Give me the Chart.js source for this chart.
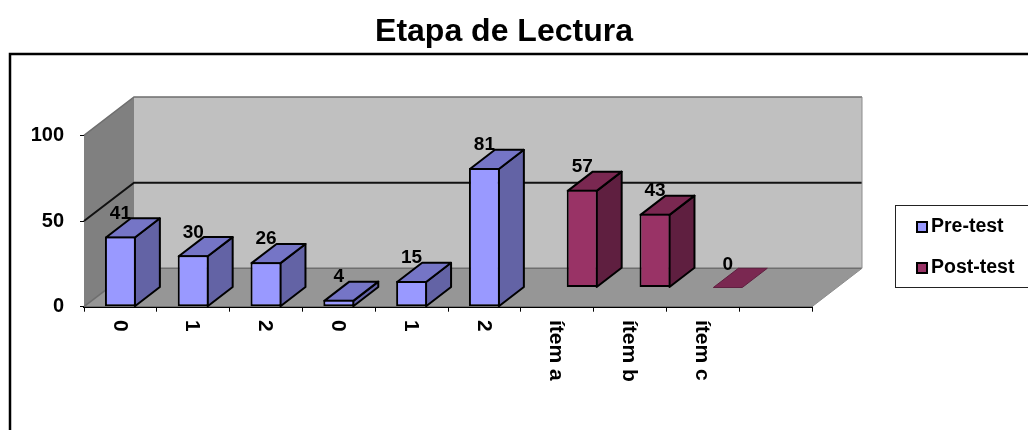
<!DOCTYPE html>
<html lang="es">
<head>
    <meta charset="UTF-8">
    <title>Etapa de Lectura</title>
    <script src="https://cdn.jsdelivr.net/npm/chart.js"></script>
    <style>
        html, body { margin: 0; padding: 0; background: #fff; }
        canvas { display: block; }
    </style>
</head>
<body>
    <canvas id="chart" width="1028" height="430"></canvas>
    <script>
        const categories = ['0', '1', '2', '0', '1', '2', 'ítem a', 'ítem b', 'ítem c', ''];
        const preTest = [41, 30, 26, 4, 15, 81, null, null, null, null];
        const postTest = [null, null, null, null, null, null, 57, 43, 0, null];
        const yTicks = [0, 50, 100];

        const FONT = '"Liberation Sans", Arial, sans-serif';
        // each series row is this deep, the floor holds two of them
        const rowDepth = { x: 25, y: -19.2 };
        const faces = [
            { front: '#9999ff', side: '#6363a5', top: '#7575c6' },
            { front: '#993366', side: '#5f1f40', top: '#7a2851' }
        ];

        function poly(ctx, pts, fill, stroke, lw) {
            ctx.beginPath();
            pts.forEach((p, i) => i ? ctx.lineTo(p[0], p[1]) : ctx.moveTo(p[0], p[1]));
            ctx.closePath();
            if (fill) { ctx.fillStyle = fill; ctx.fill(); }
            if (stroke) { ctx.strokeStyle = stroke; ctx.lineWidth = lw; ctx.stroke(); }
        }

        // walls and floor behind the bars
        const roomPlugin = {
            id: 'room',
            beforeDatasetsDraw(chart) {
                const { ctx, chartArea: a, scales: { y } } = chart;
                const dx = rowDepth.x * 2, dy = rowDepth.y * 2;
                ctx.save();
                // outer frame
                ctx.strokeStyle = '#000';
                ctx.lineWidth = 2.5;
                ctx.beginPath();
                ctx.moveTo(10, 430);
                ctx.lineTo(10, 54);
                ctx.lineTo(1028, 54);
                ctx.stroke();

                poly(ctx, [[a.left + dx, a.top + dy], [a.right + dx, a.top + dy], [a.right + dx, a.bottom + dy], [a.left + dx, a.bottom + dy]], '#c0c0c0');
                poly(ctx, [[a.left, a.top], [a.left + dx, a.top + dy], [a.left + dx, a.bottom + dy], [a.left, a.bottom]], '#808080');
                poly(ctx, [[a.left, a.bottom], [a.right, a.bottom], [a.right + dx, a.bottom + dy], [a.left + dx, a.bottom + dy]], '#969696');

                yTicks.forEach(v => {
                    const py = y.getPixelForValue(v);
                    ctx.beginPath();
                    ctx.moveTo(a.left, py);
                    ctx.lineTo(a.left + dx, py + dy);
                    ctx.lineTo(a.right + dx, py + dy);
                    ctx.strokeStyle = v === 50 ? '#111' : '#6e6e6e';
                    ctx.lineWidth = v === 50 ? 2 : 1.5;
                    ctx.stroke();
                });
                ctx.beginPath();
                ctx.moveTo(a.right + dx, a.top + dy);
                ctx.lineTo(a.right + dx, a.bottom + dy);
                ctx.lineTo(a.right, a.bottom);
                ctx.strokeStyle = '#8c8c8c';
                ctx.lineWidth = 1;
                ctx.stroke();
                ctx.restore();
            }
        };

        // side and top faces; the second series sits one row further back
        const depthPlugin = {
            id: 'depth',
            beforeDatasetDraw(chart, args) {
                const { ctx } = chart;
                const meta = chart.getDatasetMeta(args.index);
                const c = faces[args.index];
                ctx.save();
                ctx.translate(rowDepth.x * args.index, rowDepth.y * args.index);
                ctx.lineJoin = 'round';
                meta.data.forEach((bar, i) => {
                    if (chart.data.datasets[args.index].data[i] === null) return;
                    const l = bar.x - bar.width / 2 + 1, r = bar.x + bar.width / 2 - 1;
                    const t = bar.y + 1, b = bar.base;
                    const dx = rowDepth.x, dy = rowDepth.y;
                    if (b - t > 1) {
                        poly(ctx, [[r, t], [r + dx, t + dy], [r + dx, b + dy], [r, b]], c.side, '#000', 2);
                        poly(ctx, [[l, t], [r, t], [r + dx, t + dy], [l + dx, t + dy]], c.top, '#000', 2);
                    } else {
                        poly(ctx, [[l, b], [r, b], [r + dx, b + dy], [l + dx, b + dy]], c.top, c.side, 1);
                    }
                });
            },
            afterDatasetDraw(chart) {
                chart.ctx.restore();
            }
        };

        // data labels, rotated category labels and the legend box
        const textPlugin = {
            id: 'texts',
            afterDatasetsDraw(chart) {
                const { ctx, scales: { x } } = chart;
                ctx.save();
                ctx.fillStyle = '#000';
                ctx.font = 'bold 19px ' + FONT;
                ctx.textAlign = 'center';
                ctx.textBaseline = 'middle';
                chart.data.datasets.forEach((ds, d) => {
                    chart.getDatasetMeta(d).data.forEach((bar, i) => {
                        if (ds.data[i] === null) return;
                        ctx.fillText(String(ds.data[i]), bar.x + rowDepth.x * d, bar.y + rowDepth.y * d - 23);
                    });
                });

                ctx.font = 'bold 21px ' + FONT;
                ctx.textAlign = 'left';
                categories.forEach((label, i) => {
                    if (!label) return;
                    ctx.save();
                    ctx.translate(x.getPixelForValue(i) - 1, 320);
                    ctx.rotate(Math.PI / 2);
                    ctx.fillText(label, 0, 0);
                    ctx.restore();
                });

                ctx.fillStyle = '#fff';
                ctx.fillRect(895.5, 205.5, 140, 82);
                ctx.strokeStyle = '#222';
                ctx.lineWidth = 1;
                ctx.strokeRect(895.5, 205.5, 140, 82);
                ctx.font = 'bold 19.5px ' + FONT;
                chart.data.datasets.forEach((ds, d) => {
                    const ly = 227 + d * 41;
                    ctx.fillStyle = faces[d].front;
                    ctx.fillRect(917, ly - 5, 10, 10);
                    ctx.strokeStyle = '#000';
                    ctx.lineWidth = 2;
                    ctx.strokeRect(917, ly - 5, 10, 10);
                    ctx.fillStyle = '#000';
                    ctx.fillText(ds.label, 931, ly);
                });
                ctx.restore();
            }
        };

        new Chart(document.getElementById('chart'), {
            type: 'bar',
            data: {
                labels: categories,
                datasets: [
                    { label: 'Pre-test', data: preTest, backgroundColor: faces[0].front },
                    { label: 'Post-test', data: postTest, backgroundColor: faces[1].front }
                ]
            },
            options: {
                responsive: false,
                animation: false,
                layout: { padding: { left: 0, right: 20, top: 0, bottom: 0 } },
                datasets: {
                    bar: {
                        grouped: false,
                        barPercentage: 1,
                        categoryPercentage: 0.425,
                        borderColor: '#000',
                        borderWidth: 2,
                        borderSkipped: false,
                        clip: false
                    }
                },
                plugins: {
                    legend: { display: false },
                    tooltip: { enabled: false },
                    title: {
                        display: true,
                        text: 'Etapa de Lectura',
                        color: '#000',
                        font: { family: FONT, size: 32, weight: 'bold', lineHeight: 1.2 },
                        padding: { top: 13, bottom: 84 }
                    }
                },
                scales: {
                    x: {
                        afterFit(s) { s.height = 123.3; },
                        ticks: { display: false },
                        border: { color: '#000', width: 2 },
                        grid: { drawOnChartArea: false, tickLength: 5, color: '#000', tickColor: '#000' }
                    },
                    y: {
                        min: 0,
                        max: 100,
                        afterFit(s) { s.width = 84; },
                        afterBuildTicks(s) { s.ticks = yTicks.map(v => ({ value: v })); },
                        ticks: { color: '#000', padding: 16, font: { family: FONT, size: 20, weight: 'bold' } },
                        border: { color: '#333', width: 1 },
                        grid: { drawOnChartArea: false, tickLength: 4, color: '#000', tickColor: '#000' }
                    },
                    // reserves the strip right of the plot for the walls and the legend
                    side: {
                        position: 'right',
                        afterFit(s) { s.width = 196; },
                        ticks: { display: false },
                        border: { display: false },
                        grid: { display: false }
                    }
                }
            },
            plugins: [roomPlugin, depthPlugin, textPlugin]
        });
    </script>
</body>
</html>
